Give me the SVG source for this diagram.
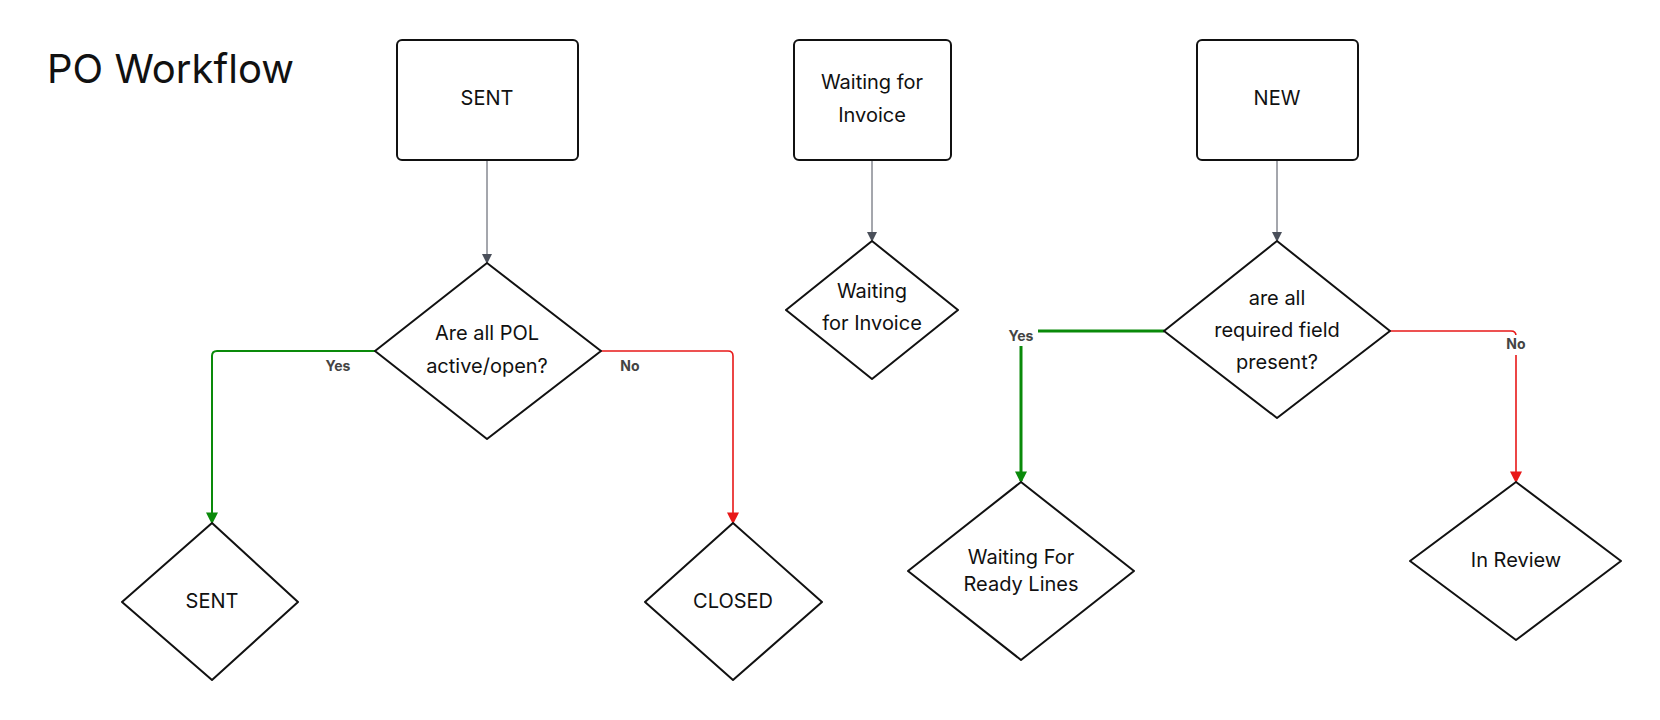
<svg xmlns="http://www.w3.org/2000/svg" width="1660" height="720" viewBox="0 0 1660 720">
<style>
.n{fill:#fff;stroke:#111;stroke-width:2;stroke-linejoin:round}
.t{font-family:Inter,"Liberation Sans",sans-serif;font-size:20px;fill:#111;text-anchor:middle;dominant-baseline:middle}
.l{font-family:Inter,"Liberation Sans",sans-serif;font-size:14px;font-weight:bold;fill:#444;text-anchor:middle;dominant-baseline:middle}
.g{fill:none;stroke:#4a4f5a;stroke-width:1}
.y{fill:none;stroke:#0a8a0a;stroke-width:2}
.r{fill:none;stroke:#e81818;stroke-width:1.6}
</style>
<defs>
<marker id="ag" markerWidth="10" markerHeight="12" refX="8" refY="5" orient="auto" markerUnits="userSpaceOnUse" viewBox="0 0 10 10"><path d="M0,0L10,5L0,10z" fill="#4a4f5a"/></marker>
<marker id="ay" markerWidth="12" markerHeight="12" refX="8" refY="5" orient="auto" markerUnits="userSpaceOnUse" viewBox="0 0 10 10"><path d="M0,0L10,5L0,10z" fill="#0a8a0a"/></marker>
<marker id="ar" markerWidth="12" markerHeight="12" refX="8" refY="5" orient="auto" markerUnits="userSpaceOnUse" viewBox="0 0 10 10"><path d="M0,0L10,5L0,10z" fill="#e81818"/></marker>
</defs>
<rect width="1660" height="720" fill="#fff"/>
<text x="47" y="72" font-family="Inter,'Liberation Sans',sans-serif" font-size="40" fill="#111" dominant-baseline="middle">PO Workflow</text>
<g id="connectors">
<path class="g" d="M487,160V262" marker-end="url(#ag)"/>
<path class="g" d="M872,160V240" marker-end="url(#ag)"/>
<path class="g" d="M1277,160V240" marker-end="url(#ag)"/>
<path class="y" d="M375,351H217Q212,351 212,356V522" marker-end="url(#ay)"/>
<path class="r" d="M601,351H728Q733,351 733,356V522" marker-end="url(#ar)"/>
<path class="y" style="stroke-width:3" d="M1164,331H1021V481" marker-end="url(#ay)"/>
<path class="r" d="M1390,331H1511Q1516,331 1516,336V481" marker-end="url(#ar)"/>
<text class="l" x="338" y="367">Yes</text>
<text class="l" x="630" y="367">No</text>
<rect x="1004" y="326" width="34" height="20" fill="#fff"/>
<text class="l" x="1021" y="337">Yes</text>
<rect x="1503" y="335" width="26" height="20" fill="#fff"/>
<text class="l" x="1516" y="345">No</text>
</g>
<g id="sent-box"><rect class="n" x="397" y="40" width="181" height="120" rx="5"/><text class="t" x="487" y="100">SENT</text></g>
<g id="wait-box"><rect class="n" x="794" y="40" width="157" height="120" rx="5"/><text class="t" x="872" y="84">Waiting for</text><text class="t" x="872" y="117">Invoice</text></g>
<g id="new-box"><rect class="n" x="1197" y="40" width="161" height="120" rx="5"/><text class="t" x="1277" y="100">NEW</text></g>
<g id="d-pol"><path class="n" d="M487,263L601,351L487,439L375,351Z"/><text class="t" x="487" y="335">Are all POL</text><text class="t" x="487" y="368">active/open?</text></g>
<g id="d-wait"><path class="n" d="M872,241L958,310L872,379L786,310Z"/><text class="t" x="872" y="293">Waiting</text><text class="t" x="872" y="325">for Invoice</text></g>
<g id="d-req"><path class="n" d="M1277,241L1390,331L1277,418L1164,331Z"/><text class="t" x="1277" y="300">are all</text><text class="t" x="1277" y="332">required field</text><text class="t" x="1277" y="364">present?</text></g>
<g id="d-sent"><path class="n" d="M212,523L298,602L212,680L122,602Z"/><text class="t" x="212" y="603">SENT</text></g>
<g id="d-closed"><path class="n" d="M733,523L822,602L733,680L645,602Z"/><text class="t" x="733" y="603">CLOSED</text></g>
<g id="d-ready"><path class="n" d="M1021,482L1134,571L1021,660L908,571Z"/><text class="t" x="1021" y="559">Waiting For</text><text class="t" x="1021" y="586">Ready Lines</text></g>
<g id="d-review"><path class="n" d="M1516,482L1621,561L1516,640L1410,561Z"/><text class="t" x="1516" y="562">In Review</text></g>
</svg>
